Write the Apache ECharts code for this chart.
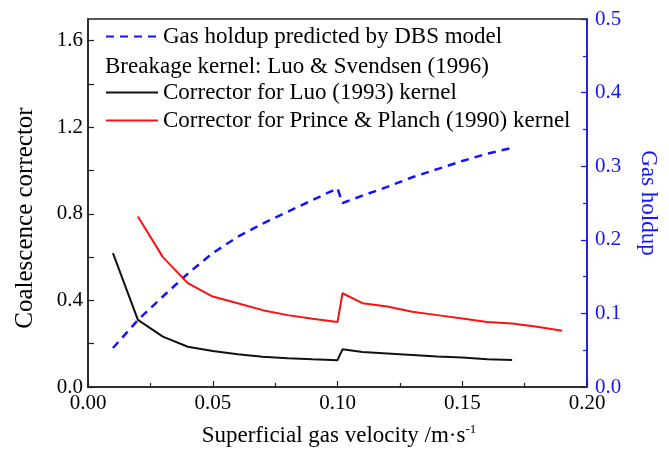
<!DOCTYPE html>
<html>
<head>
<meta charset="utf-8">
<script src="https://cdn.jsdelivr.net/npm/echarts@6/dist/echarts.min.js"></script>
<style>html,body{margin:0;padding:0;background:#fff}#c{width:669px;height:455px}</style>
</head>
<body>
<div id="c"></div>
<script>
// Data
const luoX = [0.01,0.02,0.03,0.04,0.05,0.06,0.07,0.08,0.09,0.10,0.102,0.11,0.12,0.13,0.14,0.15,0.16,0.17];
const luoY = [0.618,0.31,0.233,0.186,0.166,0.151,0.140,0.133,0.128,0.124,0.174,0.162,0.155,0.148,0.141,0.136,0.128,0.125];
const princeX = [0.02,0.03,0.04,0.05,0.06,0.07,0.08,0.09,0.10,0.102,0.11,0.12,0.13,0.14,0.15,0.16,0.17,0.18,0.19];
const princeY = [0.788,0.60,0.48,0.418,0.387,0.355,0.332,0.315,0.30,0.433,0.387,0.372,0.348,0.332,0.316,0.300,0.293,0.278,0.26];
const holdupX = [0.01,0.02,0.03,0.04,0.05,0.06,0.07,0.08,0.09,0.10,0.102,0.11,0.12,0.13,0.14,0.15,0.16,0.17];
const holdupY = [0.053,0.091,0.123,0.154,0.182,0.204,0.222,0.238,0.254,0.270,0.250,0.260,0.272,0.285,0.296,0.307,0.317,0.325];
const leftTicks = [0, 0.4, 0.8, 1.2, 1.6];
const leftMinorTicks = [0, 0.2, 0.4, 0.6, 0.8, 1.0, 1.2, 1.4, 1.6];

const names = {
  holdup: 'Gas holdup predicted by DBS model',
  note: 'Breakage kernel: Luo & Svendsen (1996)',
  luo: 'Corrector for Luo (1993) kernel',
  prince: 'Corrector for Prince & Planch (1990) kernel'
};

const FONT = 'Liberation Serif';
const BLUE = '#1414ff';
const pairs = (xs, ys) => xs.map((x, i) => [x, ys[i]]);

const legendBase = {
  orient: 'vertical', left: 100,
  itemWidth: 52, itemHeight: 14, itemGap: 5,
  itemStyle: {opacity: 0, borderWidth: 0},
  textStyle: {fontFamily: FONT, fontSize: 23, color: '#000', lineHeight: 23}
};

const chart = echarts.init(document.getElementById('c'), null, {renderer: 'canvas'});
chart.setOption({
  animation: false,
  backgroundColor: '#fff',
  textStyle: {fontFamily: FONT},
  grid: {left: 88, right: 82, top: 19, bottom: 68, show: true, borderColor: '#222', borderWidth: 1.5, backgroundColor: 'transparent'},
  legend: [
    Object.assign({}, legendBase, {data: [names.holdup], top: 20}),
    Object.assign({}, legendBase, {data: [names.luo, names.prince], top: 76})
  ],
  graphic: [
    {type: 'text', left: 105, top: 55, style: {text: names.note, fontFamily: FONT, fontSize: 23, fill: '#000'}},
    {type: 'text', x: 25, y: 218, rotation: Math.PI / 2,
     style: {text: 'Coalescence corrector', fontFamily: FONT, fontSize: 25, fill: '#000', align: 'center', verticalAlign: 'middle'}},
    {type: 'text', x: 648, y: 203, rotation: -Math.PI / 2,
     style: {text: 'Gas holdup', fontFamily: FONT, fontSize: 23, fill: BLUE, align: 'center', verticalAlign: 'middle'}},
    {type: 'text', x: 339, y: 436,
     style: {
       text: '{a|Superficial gas velocity /m·s}{s|-1}',
       align: 'center', verticalAlign: 'middle',
       rich: {
         a: {fontFamily: FONT, fontSize: 23, fill: '#000', lineHeight: 26},
         s: {fontFamily: FONT, fontSize: 13, fill: '#000', lineHeight: 26, verticalAlign: 'top', padding: [0, 0, 12, 0]}
       }
     }}
  ],
  xAxis: {
    type: 'value', min: 0, max: 0.2, interval: 0.05,
    axisLine: {lineStyle: {color: '#222', width: 1.5}},
    axisTick: {inside: true, length: 6, lineStyle: {color: '#222', width: 1.2}},
    minorTick: {show: true, splitNumber: 2, length: 4, lineStyle: {color: '#222', width: 1.2}},
    splitLine: {show: false},
    axisLabel: {fontFamily: FONT, fontSize: 21, color: '#000', margin: 6, formatter: v => v.toFixed(2)}
  },
  yAxis: [
    {
      type: 'value', min: 0, max: 1.7, position: 'left',
      axisLine: {show: true, lineStyle: {color: '#222', width: 1.5}},
      axisTick: {inside: true, length: 6, customValues: leftMinorTicks, lineStyle: {color: '#222', width: 1.2}},
      splitLine: {show: false},
      axisLabel: {fontFamily: FONT, fontSize: 21, color: '#000', margin: 5, customValues: leftTicks, formatter: v => v.toFixed(1)}
    },
    {
      type: 'value', min: 0, max: 0.5, interval: 0.1, position: 'right',
      axisLine: {show: true, lineStyle: {color: BLUE, width: 1.5}},
      axisTick: {inside: true, length: 6, lineStyle: {color: BLUE, width: 1.2}},
      minorTick: {show: true, splitNumber: 2, length: 4, lineStyle: {color: BLUE, width: 1.2}},
      splitLine: {show: false},
      axisLabel: {fontFamily: FONT, fontSize: 21, color: BLUE, margin: 8, formatter: v => v.toFixed(1)}
    }
  ],
  series: [
    {
      name: names.holdup, type: 'line', yAxisIndex: 1, symbol: 'none',
      data: pairs(holdupX, holdupY),
      lineStyle: {color: BLUE, width: 2.5, type: [8, 6]}, itemStyle: {color: BLUE}
    },
    {
      name: names.luo, type: 'line', yAxisIndex: 0, symbol: 'none',
      data: pairs(luoX, luoY),
      lineStyle: {color: '#111', width: 2}, itemStyle: {color: '#111'}
    },
    {
      name: names.prince, type: 'line', yAxisIndex: 0, symbol: 'none',
      data: pairs(princeX, princeY),
      lineStyle: {color: '#ff1010', width: 2}, itemStyle: {color: '#ff1010'}
    }
  ]
});
</script>
</body>
</html>
